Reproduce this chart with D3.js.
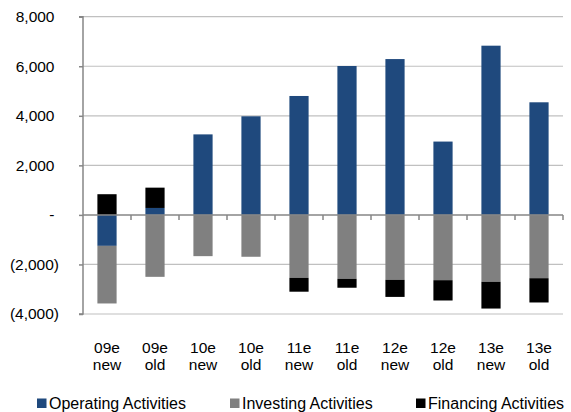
<!DOCTYPE html>
<html>
<head>
<meta charset="utf-8">
<script src="https://cdn.jsdelivr.net/npm/d3@7"></script>
<style>
  html, body { margin: 0; padding: 0; background: #fff; }
  svg { display: block; font-family: "Liberation Sans", Arial, sans-serif; }
</style>
</head>
<body>
<svg id="chart" width="571" height="412"></svg>
<script>
const categories = ["09e new", "09e old", "10e new", "10e old", "11e new", "11e old", "12e new", "12e old", "13e new", "13e old"];
const seriesNames = ["Operating Activities", "Investing Activities", "Financing Activities"];
const operating = [-1250, 280, 3250, 3980, 4800, 6010, 6290, 2960, 6830, 4545];
const investing = [-2325, -2500, -1665, -1690, -2540, -2580, -2620, -2635, -2700, -2555];
const financing = [835, 820, 0, 0, -560, -360, -690, -820, -1080, -980];
const yTicks = [-4000, -2000, 0, 2000, 4000, 6000, 8000];
const colors = ["#1F497D", "#808080", "#000000"];

(function () {
const rows = categories.map((c, i) => ({
  cat: c,
  "Operating Activities": operating[i],
  "Investing Activities": investing[i],
  "Financing Activities": financing[i]
}));

const svg = d3.select("#chart");
const pL = 83, pR = 563, pT = 16.7, pB = 314;

const x = d3.scaleBand().domain(categories).range([pL, pR]).paddingInner(0.6).paddingOuter(0.3);
const y = d3.scaleLinear().domain([-4000, 8000]).range([pB, pT]);

// gridlines
svg.append("g").selectAll("line").data(yTicks.filter(d => d !== 0)).join("line")
  .attr("x1", pL).attr("x2", pR)
  .attr("y1", d => y(d)).attr("y2", d => y(d))
  .attr("stroke", "#c0c0c0").attr("stroke-width", 1.2);

// bars
const stack = d3.stack().keys(seriesNames).offset(d3.stackOffsetDiverging);
const stacked = stack(rows);
svg.append("g").selectAll("g").data(stacked).join("g")
  .attr("fill", (d, i) => colors[i])
  .selectAll("rect").data(d => d).join("rect")
  .attr("x", d => x(d.data.cat))
  .attr("width", x.bandwidth())
  .attr("y", d => y(Math.max(d[0], d[1])))
  .attr("height", d => Math.abs(y(d[0]) - y(d[1])));

// y axis
const fmt = d3.format(",");
const yAxis = d3.axisLeft(y).tickValues(yTicks).tickSize(4).tickPadding(20)
  .tickFormat(d => d === 0 ? "-" : d < 0 ? "(" + fmt(-d) + ")" : fmt(d));
const yg = svg.append("g").attr("transform", `translate(${pL},0)`).call(yAxis);
yg.select(".domain").attr("stroke", "#868686").attr("stroke-width", 1.5).attr("d", `M-4,${pT}H0V${pB}H-4`);
yg.selectAll(".tick line").attr("stroke", "#868686").attr("stroke-width", 1.5);
yg.selectAll(".tick text").attr("font-size", 15.5).attr("fill", "#000")
  .attr("font-family", "Liberation Sans, Arial, sans-serif")
  .attr("dx", d => d < 0 ? 0 : -4.5);

// x axis at zero
const zeroY = y(0);
const xg = svg.append("g");
xg.append("line").attr("x1", pL).attr("x2", pR).attr("y1", zeroY).attr("y2", zeroY)
  .attr("stroke", "#868686").attr("stroke-width", 1.5);
const boundaries = categories.map(c => x(c) - x.step() * x.paddingInner() / 2).slice(1).concat([pR]);
xg.selectAll("line.tk").data(boundaries).join("line").attr("class", "tk")
  .attr("x1", d => d).attr("x2", d => d).attr("y1", zeroY).attr("y2", zeroY + 5)
  .attr("stroke", "#868686").attr("stroke-width", 1.5);

// category labels
const lab = svg.append("g").selectAll("text").data(categories).join("text")
  .attr("x", d => x(d) + x.bandwidth() / 2)
  .attr("text-anchor", "middle").attr("font-size", 15.5).attr("fill", "#000");
lab.append("tspan").attr("x", d => x(d) + x.bandwidth() / 2).attr("y", 352.5).text(d => d.split(" ")[0]);
lab.append("tspan").attr("x", d => x(d) + x.bandwidth() / 2).attr("y", 369.5).text(d => d.split(" ")[1]);

// legend
const legendX = [37, 230, 416];
const lg = svg.append("g").selectAll("g").data(seriesNames).join("g")
  .attr("transform", (d, i) => `translate(${legendX[i]},0)`);
lg.append("rect").attr("x", 0).attr("y", 398.5).attr("width", 9.5).attr("height", 9.5)
  .attr("fill", (d, i) => colors[i]);
lg.append("text").attr("x", 12).attr("y", 408.5).attr("font-size", 16).attr("fill", "#000").text(d => d);
})();
</script>
</body>
</html>
